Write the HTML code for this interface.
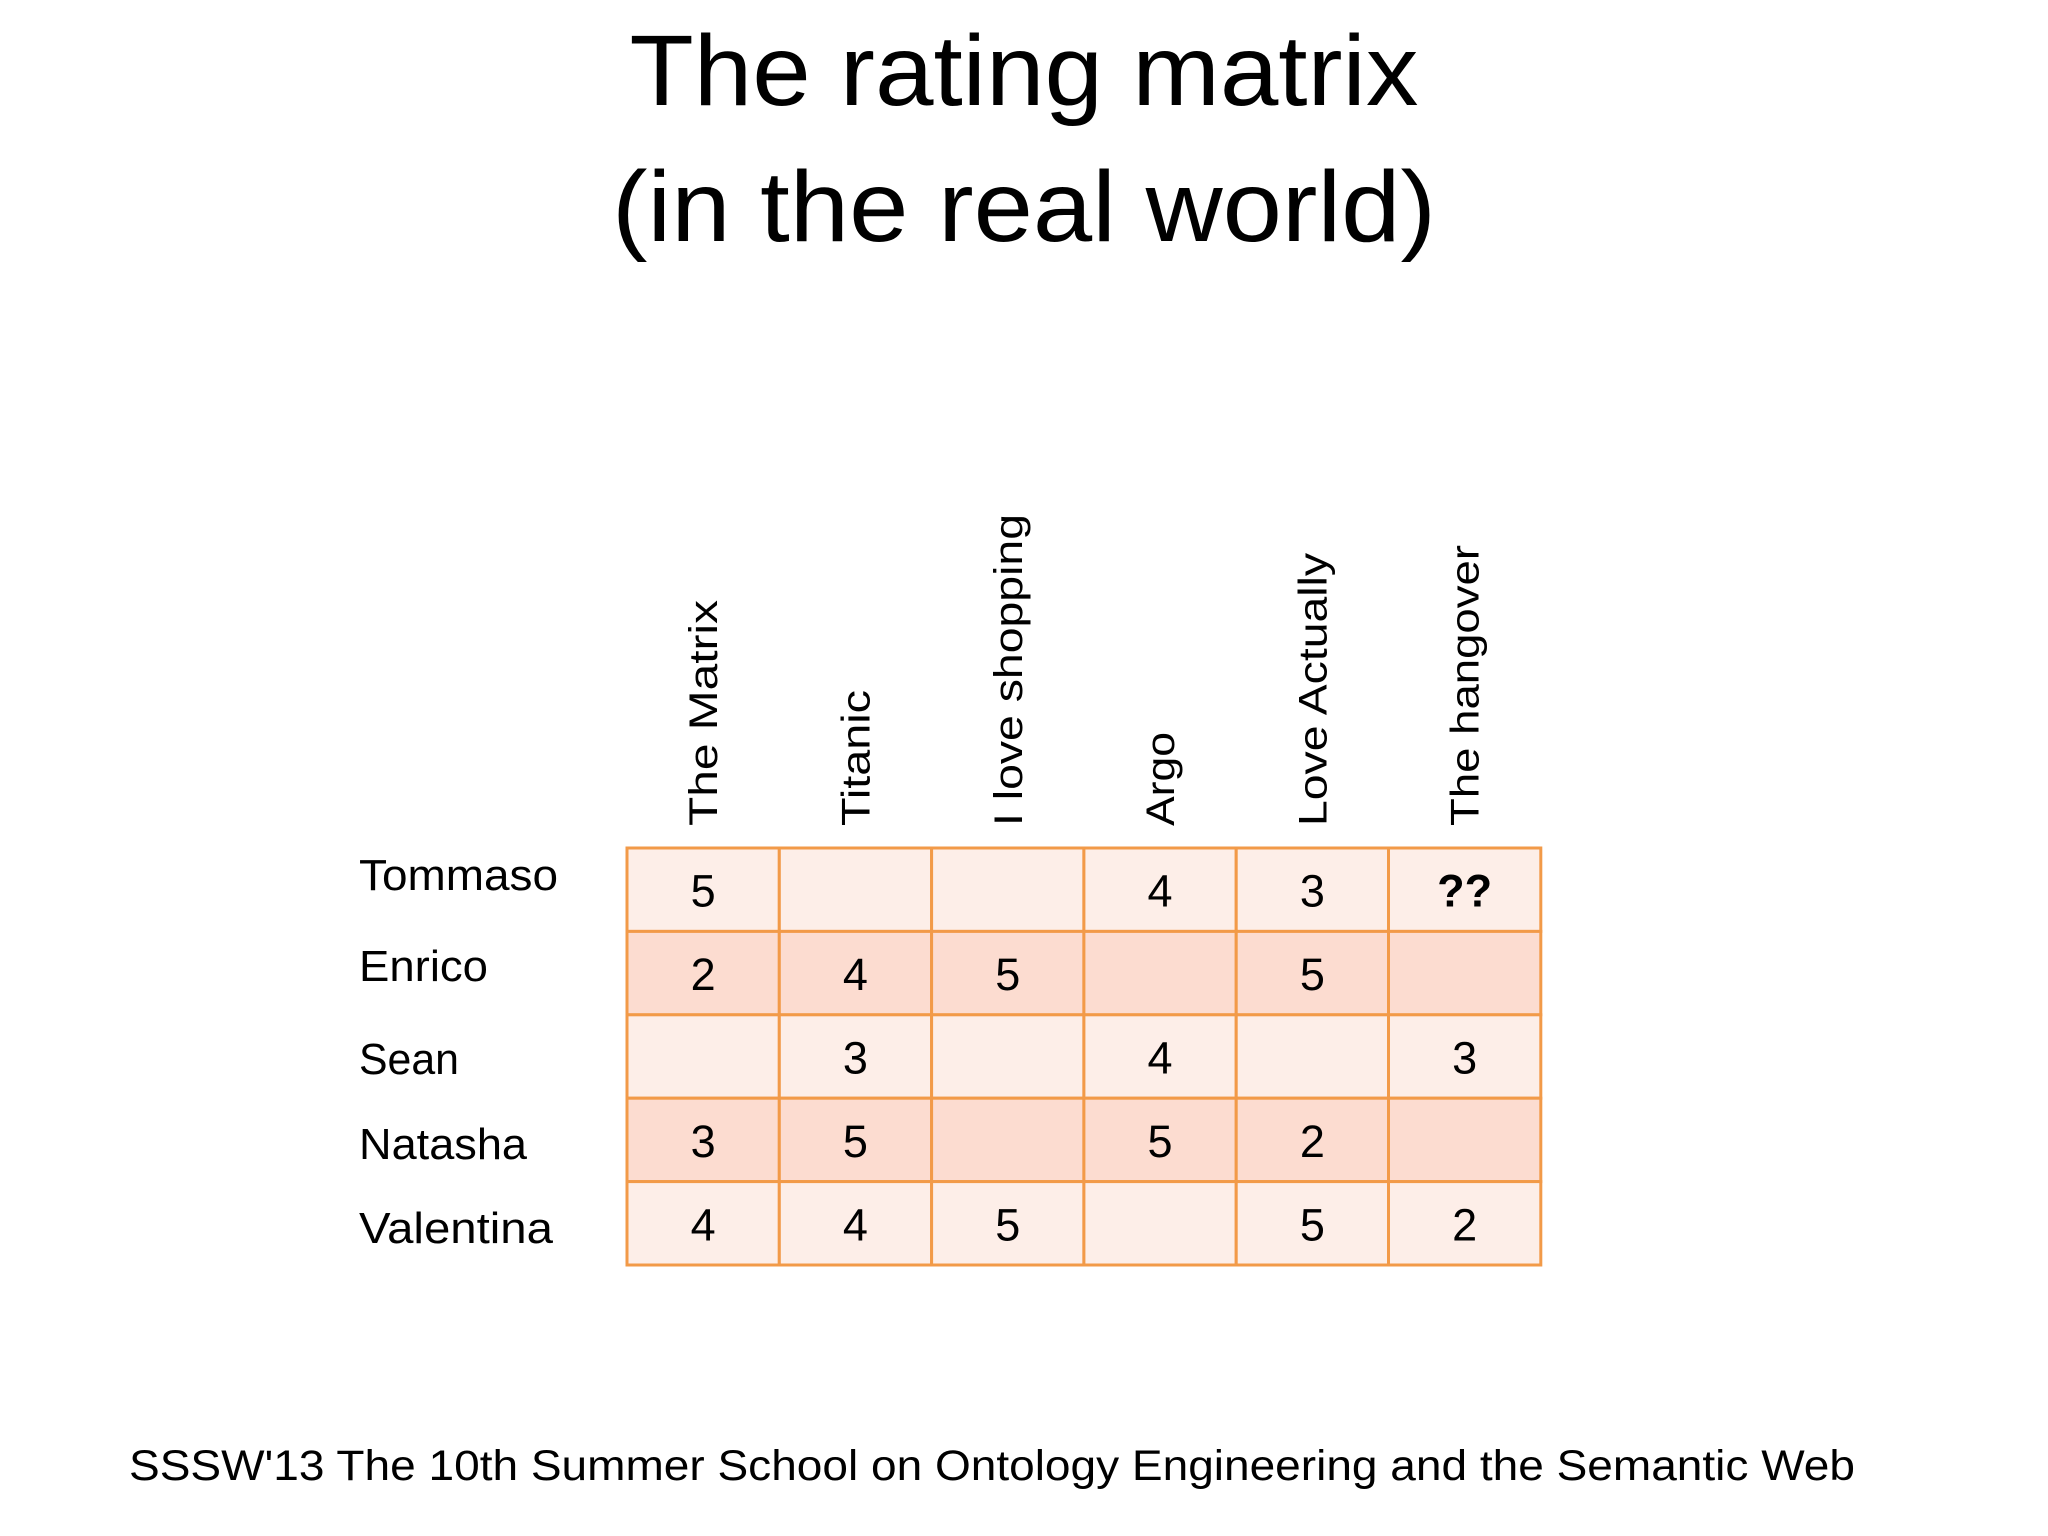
<!DOCTYPE html>
<html><head><meta charset="utf-8"><style>
html,body{margin:0;padding:0;background:#fff;}
svg{display:block;font-family:"Liberation Sans",sans-serif;}
</style></head><body>
<svg id="chart" width="2048" height="1536" viewBox="0 0 2048 1536">
<rect width="2048" height="1536" fill="#fff"/>
<text x="1024" y="105" font-size="100" text-anchor="middle" textLength="789" lengthAdjust="spacingAndGlyphs">The rating matrix</text>
<text x="1024" y="241" font-size="100" text-anchor="middle" textLength="824" lengthAdjust="spacingAndGlyphs">(in the real world)</text>
<g id="grid"></g>
<text x="129" y="1480" font-size="43" textLength="1726" lengthAdjust="spacingAndGlyphs">SSSW'13 The 10th Summer School on Ontology Engineering and the Semantic Web</text>
</svg>
<script>
const movies = ["The Matrix","Titanic","I love shopping","Argo","Love Actually","The hangover"];
const users = ["Tommaso","Enrico","Sean","Natasha","Valentina"];
const ratings = [
  [5,null,null,4,3,"??"],
  [2,4,5,null,5,null],
  [null,3,null,4,null,3],
  [3,5,null,5,2,null],
  [4,4,5,null,5,2]
];
const movieLabelWidths=[226,136,312,94,273,281];
const userLabelWidths=[199,129,100,168,194];
const rowFills=["#fdeee8","#fcdcd0","#fdeee8","#fcdcd0","#fdeee8"];
const X0=627,Y0=848,CW=152.3,RH=83.4;
const colX=i=>X0+CW*i, rowY=j=>Y0+RH*j;
const ns="http://www.w3.org/2000/svg";
const g=document.getElementById('grid');
function mk(tag,attrs,txt){const e=document.createElementNS(ns,tag);for(const k in attrs)e.setAttribute(k,attrs[k]);if(txt!=null)e.textContent=txt;g.appendChild(e);return e;}
const userBase=[890,981,1074,1159,1243];
users.forEach((u,j)=>{
  for(let i=0;i<movies.length;i++){
    const r=mk('rect',{x:colX(i),y:rowY(j),width:CW,height:RH,fill:rowFills[j],stroke:"#f29a48","stroke-width":3});
    
    
    const v=ratings[j][i];
    if(v!=null){
      const t=mk('text',{x:colX(i)+CW/2,y:rowY(j)+RH/2+17,"font-size":45,"text-anchor":"middle","font-weight":v==="??"?"bold":"normal"},String(v));
      
      
    }
  }
  const l=mk('text',{x:359,y:userBase[j],"font-size":44,textLength:userLabelWidths[j],lengthAdjust:"spacingAndGlyphs"},u);
  
  
});
movies.forEach((m,i)=>{
  const cx=colX(i)+CW/2+14, by=826;
  const t=mk('text',{x:0,y:0,"font-size":40,transform:`translate(${cx},${by}) rotate(-90)`,textLength:movieLabelWidths[i],lengthAdjust:"spacingAndGlyphs"},m);
  
  
});
</script>
</body></html>
